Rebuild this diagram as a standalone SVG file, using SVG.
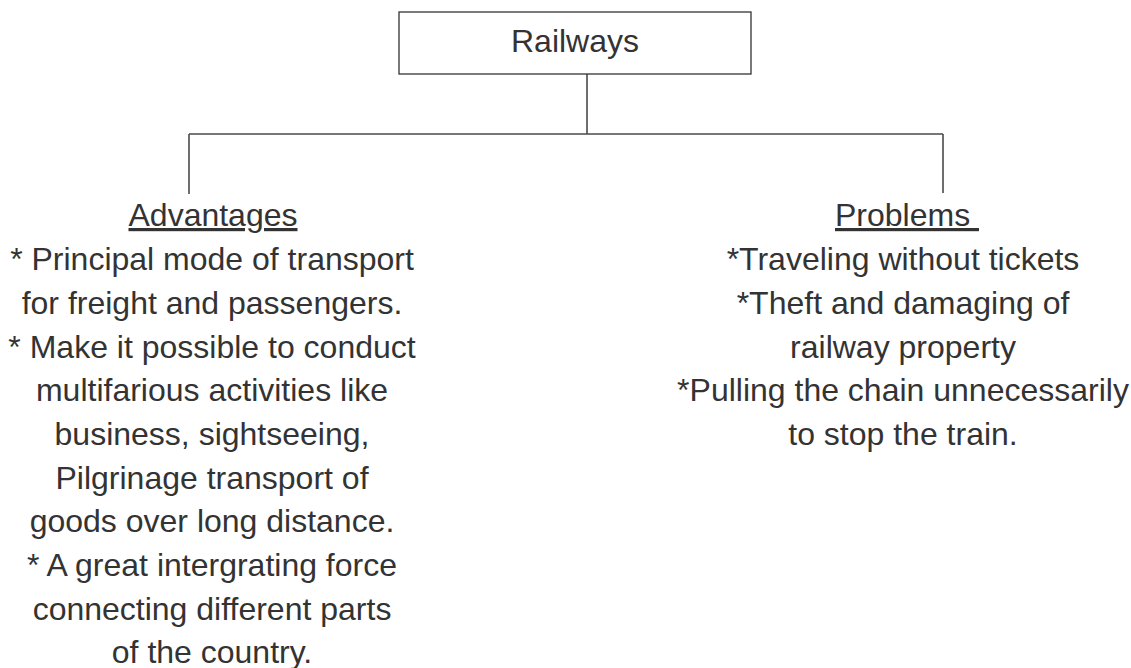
<svg xmlns="http://www.w3.org/2000/svg" width="1131" height="668" viewBox="0 0 1131 668">
<style>
.t{font-family:"Liberation Sans",Arial,sans-serif;font-size:32px;fill:#333333;text-anchor:middle}
.u{text-decoration:underline}
.c{stroke:#4a4a4a;stroke-width:1.6;fill:none}
</style>
<rect width="1131" height="668" fill="#ffffff"/>
<g id="connectors">
<line class="c" x1="587" y1="74" x2="587" y2="134"/>
<line class="c" x1="189" y1="134" x2="943" y2="134"/>
<line class="c" x1="189" y1="134" x2="189" y2="194"/>
<line class="c" x1="943" y1="134" x2="943" y2="193"/>
</g>
<g id="railways">
<rect x="399" y="12" width="352" height="62" fill="#ffffff" stroke="#333333" stroke-width="1.3"/>
<text class="t" x="575" y="52">Railways</text>
</g>
<g id="advantages">
<text class="t u" x="213" y="226">Advantages</text>
<text class="t" x="212" y="270">* Principal mode of transport</text>
<text class="t" x="212" y="314">for freight and passengers.</text>
<text class="t" x="212" y="358">* Make it possible to conduct</text>
<text class="t" x="212" y="401">multifarious activities like</text>
<text class="t" x="212" y="445">business, sightseeing,</text>
<text class="t" x="212" y="489">Pilgrinage transport of</text>
<text class="t" x="212" y="532">goods over long distance.</text>
<text class="t" x="212" y="576">* A great intergrating force</text>
<text class="t" x="212" y="620">connecting different parts</text>
<text class="t" x="212" y="663">of the country.</text>
</g>
<g id="problems">
<text class="t u" x="907" y="226" xml:space="preserve">Problems </text>
<text class="t" x="903" y="270">*Traveling without tickets</text>
<text class="t" x="903" y="314">*Theft and damaging of</text>
<text class="t" x="903" y="358">railway property</text>
<text class="t" x="903" y="401">*Pulling the chain unnecessarily</text>
<text class="t" x="903" y="445">to stop the train.</text>
</g>
</svg>
